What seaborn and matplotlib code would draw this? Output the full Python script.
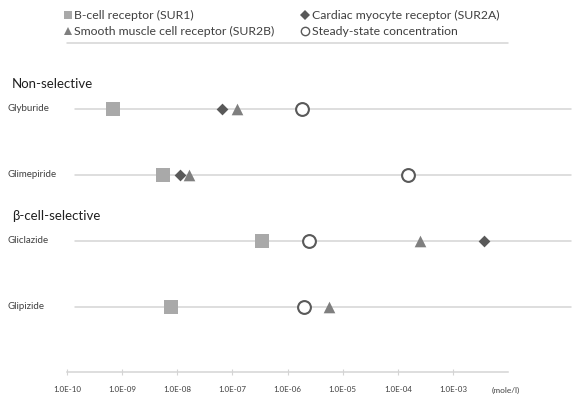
import numpy as np
import pandas as pd
import matplotlib
matplotlib.use("Agg")
import matplotlib.pyplot as plt
import seaborn as sns
from matplotlib.lines import Line2D

sns.set_theme(style="white")
plt.rcParams['font.family'] = ['Lato', 'DejaVu Sans']

# ---- data (mole/l) ----
drugs = ["Glyburide", "Glimepiride", "Gliclazide", "Glipizide"]
sur1 = [6.8e-10, 5.5e-9, 3.5e-7, 7.8e-9]          # B-cell receptor
sur2a = [6.5e-8, 1.1e-8, 3.7e-3, np.nan]           # Cardiac myocyte receptor
sur2b = [1.2e-7, 1.6e-8, 2.5e-4, 5.6e-6]           # Smooth muscle cell receptor
steady = [1.8e-6, 1.55e-4, 2.45e-6, 2.0e-6]        # Steady-state concentration
groups = ["Non-selective", "β-cell-selective"]
group_first_drug = ["Glyburide", "Gliclazide"]
tick_vals = [1e-10, 1e-9, 1e-8, 1e-7, 1e-6, 1e-5, 1e-4, 1e-3]
tick_labels = ["1.0E-10", "1.0E-09", "1.0E-08", "1.0E-07", "1.0E-06", "1.0E-05", "1.0E-04", "1.0E-03"]
unit_label = "(mole/l)"

series = [
    ("B-cell receptor (SUR1)", sur1, "s", "#a9a9a9", "#a9a9a9", 90),
    ("Cardiac myocyte receptor (SUR2A)", sur2a, "D", "#595959", "#595959", 36),
    ("Smooth muscle cell receptor (SUR2B)", sur2b, "^", "#7f7f7f", "#7f7f7f", 70),
    ("Steady-state concentration", steady, "o", "white", "#595959", 85),
]

rows = []
for name, vals, *_ in series:
    for d, v in zip(drugs, vals):
        rows.append({"drug": d, "receptor": name, "conc": v, "row": drugs.index(d)})
df = pd.DataFrame(rows).dropna()

fig = plt.figure(figsize=(5.86, 3.96), dpi=100)
ax = fig.add_axes([0, (396 - 372) / 396, 1, 372 / 396])

ax.set_xscale("log")
# x in pixels: 1e-10 at 67 px, 55.14 px per decade
ppd = 55.14
xl = -10 - 67 / ppd
xr = -10 + (586 - 67) / ppd
ax.set_xlim(10 ** xl, 10 ** xr)
ax.set_ylim(3.985, -1.65)

line_col = "#d4d4d4"
txt_col = "#404040"

# row guide lines
for i, d in enumerate(drugs):
    ax.axhline(i, xmin=75 / 586, xmax=571 / 586, color=line_col, lw=1.1, zorder=1)
    ax.text(7 / 586, i, d, transform=ax.get_yaxis_transform(), ha="left", va="center",
            fontsize=7, color=txt_col)

for g, fd in zip(groups, group_first_drug):
    ax.text(12 / 586, drugs.index(fd) - 0.38, g, transform=ax.get_yaxis_transform(),
            ha="left", va="center", fontsize=9.5, color="#202020")

handles = []
for name, vals, mk, fc, ec, s in series:
    sub = df[df.receptor == name]
    lw = 1.5 if mk == "o" else 0
    sns.scatterplot(data=sub, x="conc", y="row", marker=mk, s=s, color=fc,
                    edgecolor=ec, linewidth=lw, ax=ax, zorder=3, legend=False)
    handles.append(Line2D([], [], marker=mk, linestyle="none", markerfacecolor=fc,
                          markeredgecolor=ec, markeredgewidth=1.0 if mk == "o" else 0,
                          markersize=6 if mk != "D" else 4.8, label=name))

# separator under legend
ax.plot([tick_vals[0], 1e-2], [-1.0, -1.0], color=line_col, lw=1.1, zorder=1)

order = [0, 2, 1, 3]
leg = ax.legend([handles[i] for i in order], [series[i][0] for i in order],
                ncol=2, frameon=False, loc="upper left",
                bbox_to_anchor=(64 / 586, 1 - 10 / 372), fontsize=8.8,
                handlelength=0.6, handletextpad=0.25, columnspacing=2.2,
                labelspacing=0.4, borderpad=0, borderaxespad=0)
for t in leg.get_texts():
    t.set_color(txt_col)

# axis
for sp in ["left", "top", "right"]:
    ax.spines[sp].set_visible(False)
ax.spines["bottom"].set_color(line_col)
ax.spines["bottom"].set_linewidth(1.1)
ax.spines["bottom"].set_bounds(tick_vals[0], 1e-2)
ax.set_yticks([])
ax.set_xticks(tick_vals)
ax.set_xticklabels(tick_labels)
ax.xaxis.set_minor_locator(matplotlib.ticker.NullLocator())
ax.tick_params(axis="x", which="major", direction="inout", length=4, width=0.8,
               color=line_col, labelsize=5.8, labelcolor=txt_col, pad=8, bottom=True)
ax.set_xlabel("")
ax.set_ylabel("")
ax.text(10 ** (-10 + (492 - 67) / ppd), -0.04, unit_label, transform=ax.get_xaxis_transform(),
        ha="left", va="top", fontsize=6, color=txt_col)

fig.savefig("out.png", dpi=100)
